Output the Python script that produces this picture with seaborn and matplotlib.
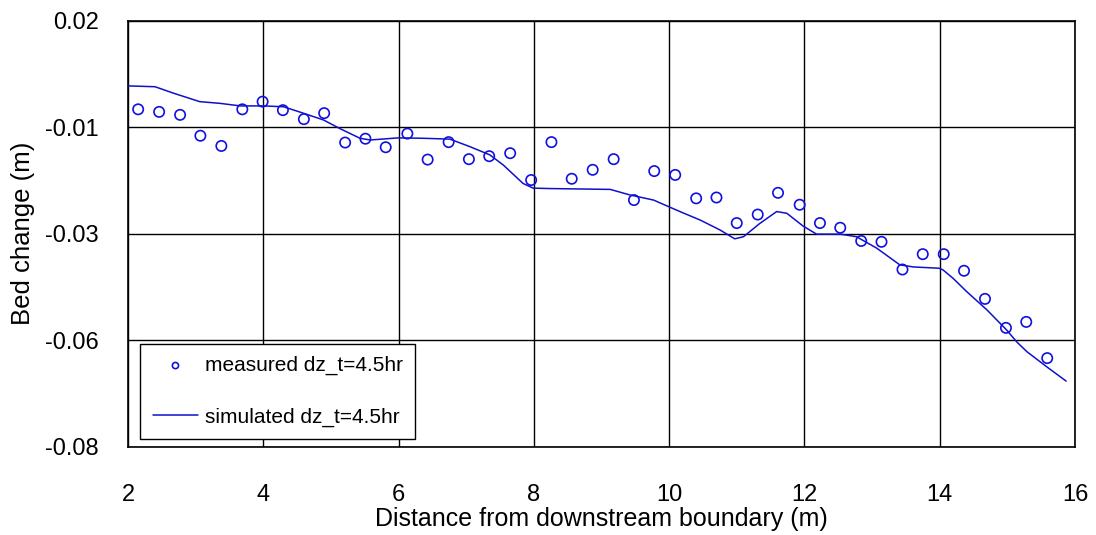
import matplotlib
matplotlib.use("Agg")
import matplotlib.pyplot as plt
import seaborn as sns
import pandas as pd

# Measured bed change at t = 4.5 hr
meas_x = [2.15, 2.46, 2.77, 3.07, 3.38, 3.69, 3.99, 4.29, 4.60, 4.90,
          5.21, 5.51, 5.81, 6.13, 6.43, 6.74, 7.04, 7.34, 7.65, 7.96,
          8.26, 8.56, 8.87, 9.18, 9.48, 9.78, 10.09, 10.40, 10.70, 11.00,
          11.31, 11.61, 11.93, 12.23, 12.53, 12.84, 13.14, 13.45, 13.75, 14.06,
          14.36, 14.67, 14.98, 15.28, 15.59]
meas_dz = [-0.0008, -0.0014, -0.0021, -0.0070, -0.0094, -0.0008, 0.0010, -0.0010, -0.0031, -0.0017,
           -0.0086, -0.0077, -0.0097, -0.0065, -0.0126, -0.0085, -0.0125, -0.0118, -0.0111, -0.0174,
           -0.0085, -0.0171, -0.0150, -0.0125, -0.0221, -0.0153, -0.0162, -0.0217, -0.0215, -0.0275,
           -0.0255, -0.0204, -0.0232, -0.0275, -0.0286, -0.0317, -0.0319, -0.0384, -0.0348, -0.0348,
           -0.0387, -0.0453, -0.0521, -0.0507, -0.0592]

# Simulated bed change at t = 4.5 hr
sim_x = [2.00, 2.40, 2.67, 3.06, 3.36, 3.66, 4.00, 4.30, 4.59, 4.89,
         5.13, 5.43, 5.58, 6.00, 6.37, 6.76, 7.06, 7.35, 7.55, 7.84,
         7.99, 8.24, 9.13, 9.42, 9.77, 10.00, 10.16, 10.46, 10.75, 10.97,
         11.10, 11.34, 11.59, 11.74, 11.98, 12.18, 12.53, 12.77, 13.07, 13.41,
         13.61, 13.99, 14.05, 14.20, 14.40, 14.70, 14.99, 15.14, 15.29, 15.58,
         15.87]
sim_dz = [0.0047, 0.0045, 0.0030, 0.0010, 0.0006, 0.0000, 0.0000, -0.0002, -0.0017, -0.0033,
          -0.0053, -0.0076, -0.0080, -0.0075, -0.0076, -0.0078, -0.0096, -0.0115, -0.0139, -0.0182,
          -0.0193, -0.0194, -0.0196, -0.0209, -0.0221, -0.0237, -0.0248, -0.0268, -0.0291, -0.0312,
          -0.0307, -0.0276, -0.0248, -0.0252, -0.0282, -0.0301, -0.0301, -0.0307, -0.0334, -0.0373,
          -0.0378, -0.0381, -0.0385, -0.0405, -0.0436, -0.0479, -0.0526, -0.0554, -0.0577, -0.0612,
          -0.0646]

x_ticks = [2, 4, 6, 8, 10, 12, 14, 16]
y_ticks = [0.02, -0.005, -0.03, -0.055, -0.08]
y_tick_labels = ["0.02", "-0.01", "-0.03", "-0.06", "-0.08"]

sns.set_theme(style="white")
plt.rcParams["font.family"] = ["Liberation Sans", "DejaVu Sans"]
plt.rcParams["text.color"] = "black"
plt.rcParams["axes.labelcolor"] = "black"

meas = pd.DataFrame({"x": meas_x, "dz": meas_dz})
sim = pd.DataFrame({"x": sim_x, "dz": sim_dz})

fig = plt.figure(figsize=(10.96, 5.35), dpi=100)
ax = fig.add_axes([0.1168, 0.165, 0.864, 0.7963])

sns.lineplot(data=sim, x="x", y="dz", ax=ax, color="#1010CC", linewidth=1.1,
             sort=False, label="simulated dz_t=4.5hr", zorder=3)
sns.scatterplot(data=meas, x="x", y="dz", ax=ax, marker="o", s=55,
                facecolors="none", edgecolor="#1010E0", linewidth=1.2,
                label="measured dz_t=4.5hr", zorder=4)

ax.set_xlim(2, 16)
ax.set_ylim(-0.08, 0.02)
ax.set_xticks(x_ticks)
ax.set_xticklabels([str(t) for t in x_ticks])
ax.set_yticks(y_ticks)
ax.set_yticklabels(y_tick_labels)
ax.tick_params(axis="both", length=0, labelsize=17, colors="black")
ax.tick_params(axis="x", pad=27)
ax.tick_params(axis="y", pad=21)
ax.grid(True, color="black", linewidth=1.0)
ax.set_axisbelow(True)
for s in ax.spines.values():
    s.set_color("black")
    s.set_linewidth(1.2)

ax.set_xlabel("Distance from downstream boundary (m)", fontsize=18)
ax.xaxis.set_label_coords(0.5, -0.142)
ax.set_ylabel("Bed change (m)", fontsize=18.5)
ax.yaxis.set_label_coords(-0.098, 0.5)

handles, labels = ax.get_legend_handles_labels()
order = [labels.index("measured dz_t=4.5hr"), labels.index("simulated dz_t=4.5hr")]
leg = ax.legend([handles[i] for i in order], [labels[i] for i in order],
                loc="lower left", bbox_to_anchor=(0.0127, 0.0174),
                fontsize=15, frameon=True, fancybox=False, shadow=False,
                edgecolor="black", framealpha=1, labelspacing=1.55,
                borderpad=0.6, handlelength=2.2, handletextpad=0.3,
                markerscale=0.6, borderaxespad=0)
leg.get_frame().set_linewidth(1.0)
for t in leg.get_texts():
    t.set_color("black")

fig.savefig("out.png", dpi=100, facecolor="white")
